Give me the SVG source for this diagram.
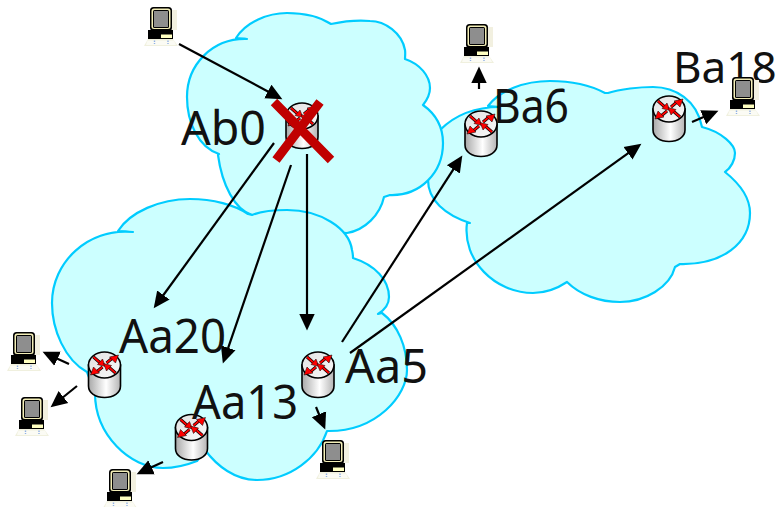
<svg xmlns="http://www.w3.org/2000/svg" width="780" height="507" viewBox="0 0 780 507">
<style>
.cloud{fill:#ccffff;stroke:#00ccff;stroke-width:2.2;stroke-linejoin:round}
.lbl{font-family:"Noto Sans","Open Sans",sans-serif;font-size:47px;font-weight:400;fill:#111}
.conn line{stroke:#000;stroke-width:2.2;marker-end:url(#ah)}
.ra{fill:#f00;stroke:#000;stroke-width:.5}
.rl{stroke:#000;stroke-width:3}
.rr{stroke:#f00;stroke-width:1.7}
</style>
<defs>
<marker id="ah" markerUnits="userSpaceOnUse" markerWidth="18" markerHeight="18" refX="8" refY="8.500" orient="auto"><path d="M0 0.800L16.500 8.500L0 16.200Z" fill="#000"/></marker>
<linearGradient id="body" x1="0" x2="1" y1="0" y2="0"><stop offset="0" stop-color="#a8a8a8"/><stop offset=".55" stop-color="#ffffff"/><stop offset="1" stop-color="#b4b4b4"/></linearGradient>
<linearGradient id="top" x1="0" x2="1" y1="0" y2="1"><stop offset="0" stop-color="#e2e2e2"/><stop offset="1" stop-color="#f8f8f8"/></linearGradient>
<g id="router">
<path d="M-16 0V21C-16 28 -9 32.500 0 32.500S16 28 16 21V0Z" fill="url(#body)" stroke="#000" stroke-width="1.600"/>
<ellipse cx="0" cy="0" rx="16" ry="13" fill="url(#top)" stroke="#000" stroke-width="1.600"/>
<path class="rl" d="M-11 -8L-3 -1M11 8L3 1M-2 2L-8 7M2 -2L8 -7"/><path class="rr" d="M-11 -8L-3 -1M11 8L3 1M-2 2L-8 7M2 -2L8 -7"/>
<path class="ra" d="M1 1.500L-7 -.5L-2 -6Z"/><path class="ra" d="M-1 -1.500L7 .5L2 6Z"/><path class="ra" d="M14 -10L11 -2L5 -8Z"/><path class="ra" d="M-14 10L-11 2L-5 8Z"/>
</g>
<g id="pc">
<rect x="26" y="3" width="7" height="20" fill="#f2f0e0"/>
<rect x="6" y="0" width="22" height="24" rx="3.500" fill="#000"/>
<rect x="7.500" y="1.500" width="19" height="20.500" rx="2.500" fill="#f4efb8"/>
<rect x="9" y="3" width="16" height="18" rx="1.500" fill="#000"/>
<rect x="10" y="4" width="14" height="16" fill="#8e8e8e"/>
<rect x="4" y="23" width="25" height="9" fill="#000"/>
<rect x="17" y="27.500" width="11" height="3.500" fill="#ffffc0"/>
<path d="M4 32H29L34 39H0Z" fill="#f0f0de"/>
<path d="M3.500 33.500H30L32 38H2Z" fill="#fbfbf4"/>
<path d="M10.500 33.500V37M24 33.500V37" stroke="#8fb0e6" stroke-width="1.400" stroke-dasharray="1.500 1"/>
</g>
</defs>
<rect width="780" height="507" fill="#fff"/>
<g id="cloud-ba"><path class="cloud" d="M440 130C455 115 475 107 500 107L488 106C500 90 525 81 550 81C570 81 590 85 605 93L608 93C620 89 640 87 653 87C675 87 697 100 702 127C722 132 735 145 735 153C735 160 731 168 725 172C740 184 750 198 750 213C750 243 723 265 680 264L675 267C670 287 645 302 620 302C600 302 580 295 567 282C555 290 545 293 533 293C495 293 462 260 467 223L470 223C445 215 428 200 428 180L440 130Z"/></g>
<g id="cloud-ab"><path class="cloud" d="M219 154C198 147 187 122 187 97C187 65 212 38 247 39L236 38C246 22 268 13 287 13C305 13 320 17 331 24C345 21 358 20 370 21C385 21 402 33 405 50C405.500 53 405 57 405 59C420 64 430 76 430 88C430 94 427 100 423 105C437 115 443 129 443 143C443 173 420 196 390 195L384 197C380 215 365 230 347 233L300 230L252 215C235 210 222 185 218 155Z"/></g>
<g id="cloud-aa"><path class="cloud" d="M87 372C65 360 52 330 52 303C52 262 88 228 133 232L118 231C130 212 160 199 190 199C213 199 235 205 248 214L252 215C262 211 275 210 287 210C320 210 349 228 352 250C353 254 353 257 353 258C375 265 389 280 389 297C389 303 386 309 378 314L382 313C398 325 407 347 407 370C407 395 377 432 327 431C318 458 290 480 257 480C235 480 217 466 205 450L197 461C187 465 175 468 163 468C130 468 95 435 95 393Z"/></g>
<g id="connectors" class="conn">
<line x1="179" y1="44" x2="274.900" y2="95.200"/>
<line x1="274" y1="143" x2="158.700" y2="301.500"/>
<line x1="291" y1="165" x2="225.600" y2="355.400"/>
<line x1="307" y1="154" x2="307" y2="322"/>
<line x1="342" y1="342" x2="457.700" y2="162.700"/>
<line x1="350" y1="353" x2="634.500" y2="148.700"/>
<line x1="692" y1="122" x2="710.600" y2="114.100"/>
<line x1="479" y1="89" x2="479" y2="75"/>
<line x1="69" y1="364" x2="50.300" y2="355.400"/>
<line x1="77" y1="386" x2="57.200" y2="402"/>
<line x1="163" y1="462" x2="144.300" y2="470.600"/>
<line x1="316" y1="407" x2="322" y2="421.600"/>
</g>
<g id="router-ab0"><use href="#router" x="302" y="116"/><text class="lbl" x="181" y="145" textLength="85" lengthAdjust="spacingAndGlyphs">Ab0</text>
<path d="M274 102L331 160M320 102L276 160" stroke="#c00000" stroke-width="9" fill="none"/></g>
<g id="router-aa20"><use href="#router" x="104.500" y="365"/><text class="lbl" x="119" y="353" textLength="107" lengthAdjust="spacingAndGlyphs">Aa20</text></g>
<g id="router-aa13"><use href="#router" x="191.500" y="427.500"/><text class="lbl" x="192" y="419" textLength="106" lengthAdjust="spacingAndGlyphs">Aa13</text></g>
<g id="router-aa5"><use href="#router" x="318" y="365"/><text class="lbl" x="345" y="383" textLength="83" lengthAdjust="spacingAndGlyphs">Aa5</text></g>
<g id="router-ba6"><use href="#router" x="481" y="124"/><text class="lbl" x="493" y="123" textLength="76" lengthAdjust="spacingAndGlyphs">Ba6</text></g>
<g id="router-ba18"><use href="#router" x="669" y="109"/><text class="lbl" x="673" y="83" style="font-size:44px">Ba18</text></g>
<g id="pc-top"><use href="#pc" x="144" y="7"/></g>
<g id="pc-aa20a"><use href="#pc" x="7" y="332"/></g>
<g id="pc-aa20b"><use href="#pc" x="15" y="397"/></g>
<g id="pc-aa13"><use href="#pc" x="103" y="469"/></g>
<g id="pc-aa5"><use href="#pc" x="316" y="440"/></g>
<g id="pc-ba6"><use href="#pc" x="460" y="24"/></g>
<g id="pc-ba18"><use href="#pc" x="726" y="77"/></g>
</svg>
